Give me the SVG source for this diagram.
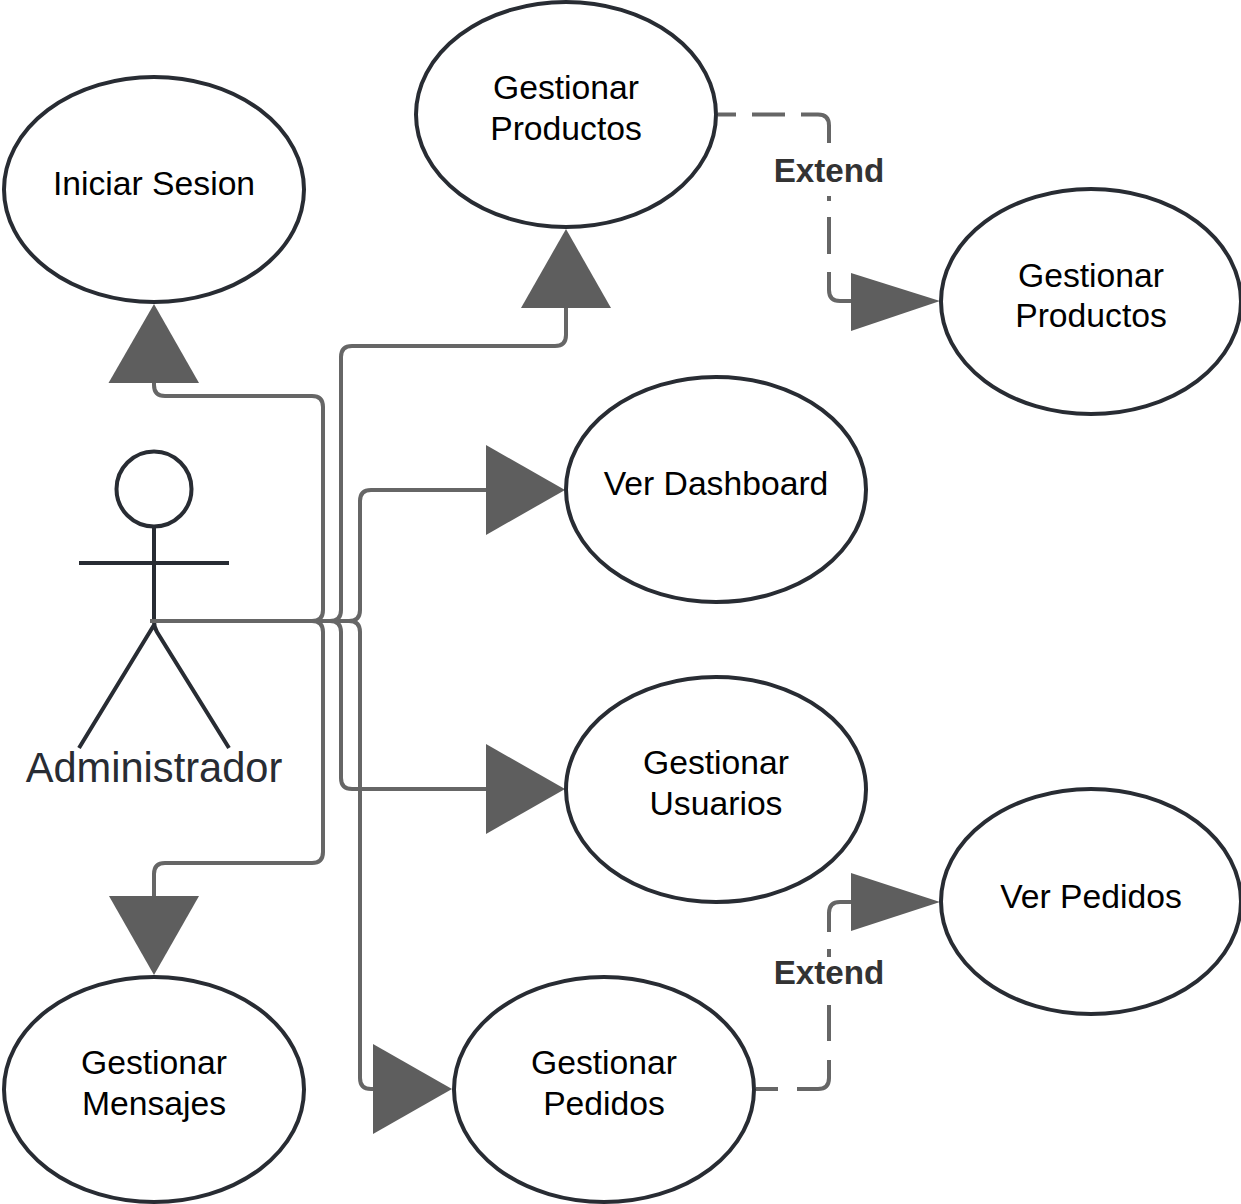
<svg xmlns="http://www.w3.org/2000/svg" width="1241" height="1204" viewBox="0 0 1241 1204">
<style>
.n{fill:#fff;stroke:#282c33;stroke-width:4}
.t{font-family:"Liberation Sans",Arial,sans-serif;font-size:33.7px;fill:#000;text-anchor:middle}
.c{fill:none;stroke:#666;stroke-width:4;stroke-linejoin:round}
.a{fill:#5e5e5e;stroke:none}
.l{font-family:"Liberation Sans",Arial,sans-serif;font-size:33.2px;font-weight:bold;fill:#333;text-anchor:middle}
.s{fill:none;stroke:#282c33;stroke-width:4}
</style>
<rect width="1241" height="1204" fill="#fff"/>
<g id="actor">
<circle class="s" cx="154" cy="489" r="37.500"/>
<path class="s" d="M154 526V621Q154 627 157 632L229 748M79 563H229M154 625L79 748"/>
<text x="154" y="782" font-family="'Liberation Sans',Arial,sans-serif" font-size="41.600" fill="#282c33" text-anchor="middle">Administrador</text>
</g>
<g id="connectors">
<path class="c" d="M150 621H312Q323 621 323 610V407Q323 396 312 396H165Q154 396 154 385V380"/>
<path class="c" d="M150 621H330Q341 621 341 610V357Q341 346 352 346H555Q566 346 566 335V305"/>
<path class="c" d="M150 621H349Q360 621 360 610V501Q360 490 371 490H488"/>
<path class="c" d="M150 621H330Q341 621 341 632V778Q341 789 352 789H488"/>
<path class="c" d="M150 621H349Q360 621 360 632V1078Q360 1089 371 1089H375"/>
<path class="c" d="M150 621H312Q323 621 323 632V852Q323 863 312 863H165Q154 863 154 874V898"/>
<path class="c" d="M718 114.500H736M752 114.500H785M801 114.500H818Q829 114.500 829 125.500V143M829 196V201M829 217V254M829 272V290Q829 301 840 301H853"/>
<path class="c" d="M756 1089H778M797 1089H818Q829 1089 829 1078V1060M829 1041V1005M829 957V949M829 932V913Q829 902 840 902H853"/>
<polygon class="a" points="154,304 199,383 108.500,383"/>
<polygon class="a" points="566,229 611,308 521,308"/>
<polygon class="a" points="565,490 486,445 486,535"/>
<polygon class="a" points="565,789 486,744 486,834"/>
<polygon class="a" points="452,1089 373,1044 373,1134"/>
<polygon class="a" points="154,975 109,896 199,896"/>
<polygon class="a" points="940,301 851,273 851,331"/>
<polygon class="a" points="940,902 851,873 851,931"/>
<text class="l" x="829" y="181.500">Extend</text>
<text class="l" x="829" y="983.500">Extend</text>
</g>
<g id="n1"><ellipse class="n" cx="154" cy="189.500" rx="150" ry="112.500"/><text class="t" x="154" y="195">Iniciar Sesion</text></g>
<g id="n2"><ellipse class="n" cx="566" cy="114.500" rx="150" ry="112.500"/><text class="t" x="566" y="99">Gestionar</text><text class="t" x="566" y="139.500">Productos</text></g>
<g id="n3"><ellipse class="n" cx="1091" cy="301.500" rx="150" ry="112.500"/><text class="t" x="1091" y="287">Gestionar</text><text class="t" x="1091" y="327">Productos</text></g>
<g id="n4"><ellipse class="n" cx="716" cy="489.500" rx="150" ry="112.500"/><text class="t" x="716" y="495">Ver Dashboard</text></g>
<g id="n5"><ellipse class="n" cx="716" cy="789.500" rx="150" ry="112.500"/><text class="t" x="716" y="774">Gestionar</text><text class="t" x="716" y="814.500">Usuarios</text></g>
<g id="n6"><ellipse class="n" cx="1091" cy="901.500" rx="150" ry="112.500"/><text class="t" x="1091" y="908">Ver Pedidos</text></g>
<g id="n7"><ellipse class="n" cx="604" cy="1089.500" rx="150" ry="112.500"/><text class="t" x="604" y="1074">Gestionar</text><text class="t" x="604" y="1114.500">Pedidos</text></g>
<g id="n8"><ellipse class="n" cx="154" cy="1089.500" rx="150" ry="112.500"/><text class="t" x="154" y="1074">Gestionar</text><text class="t" x="154" y="1114.500">Mensajes</text></g>
</svg>
